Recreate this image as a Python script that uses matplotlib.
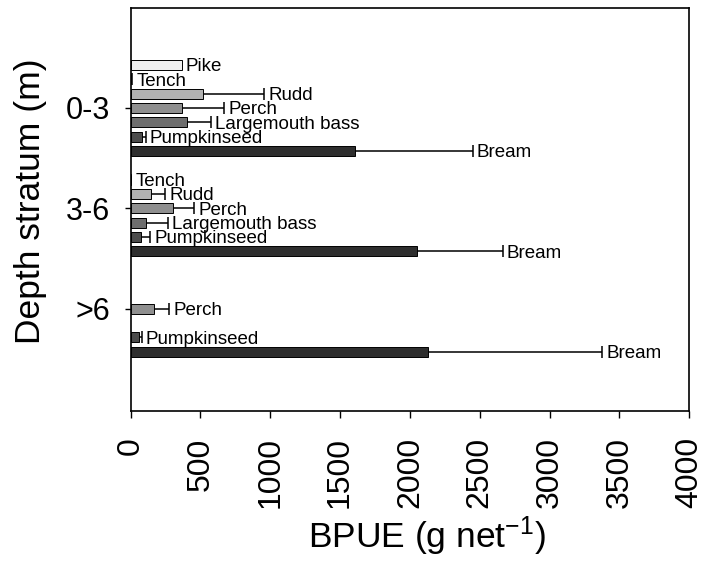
import numpy as np
import matplotlib
matplotlib.use("Agg")
import matplotlib.pyplot as plt

plt.rcParams['font.family'] = ['Liberation Sans', 'DejaVu Sans']
plt.rcParams['mathtext.fontset'] = 'custom'
plt.rcParams['mathtext.rm'] = 'Liberation Sans'
plt.rcParams['mathtext.default'] = 'regular'

strata = ["0-3", "3-6", ">6"]
species = ["Pike", "Tench", "Rudd", "Perch", "Largemouth bass", "Pumpkinseed", "Bream"]
colors = ["#f0f0f0", "#d4d4d4", "#b2b2b2", "#8f8f8f", "#6e6e6e", "#4c4c4c", "#2e2e2e"]

# mean BPUE per stratum (nan = not caught)
pike = [366, np.nan, np.nan]
tench = [4, 1, np.nan]
rudd = [521, 146, np.nan]
perch = [370, 301, 168]
lmbass = [402, 108, np.nan]
pumpkinseed = [82, 74, 60]
bream = [1607, 2054, 2128]

# standard errors
pike_se = [np.nan, np.nan, np.nan]
tench_se = [8, 3, np.nan]
rudd_se = [437, 100, np.nan]
perch_se = [299, 153, 107]
lmbass_se = [174, 162, np.nan]
pumpkinseed_se = [25, 65, 18]
bream_se = [841, 609, 1247]

values = [pike, tench, rudd, perch, lmbass, pumpkinseed, bream]
errors = [pike_se, tench_se, rudd_se, perch_se, lmbass_se, pumpkinseed_se, bream_se]

fig = plt.figure(figsize=(7.06, 5.65), dpi=100)
ax = fig.add_axes([0.185, 0.2726, 0.7913, 0.7141])

pos = np.arange(1, len(strata) + 1)
slot = 1.0 / 7
for i, (name, vals, errs, c) in enumerate(zip(species, values, errors, colors)):
    vals = np.array(vals, dtype=float)
    errs = np.array(errs, dtype=float)
    y = pos + (i - 3) * slot
    ok = ~np.isnan(vals)
    ax.barh(y[ok], vals[ok], height=0.1, color=c, edgecolor="black",
            linewidth=0.7, zorder=2)
    # one-sided error bars: line from bar end plus a cap at the end only
    eok = ok & ~np.isnan(errs)
    if eok.any():
        ends = vals[eok] + errs[eok]
        ax.hlines(y[eok], vals[eok], ends, color="black", linewidth=1.1, zorder=1)
        ax.plot(ends, y[eok], linestyle="", marker="|", markersize=8,
                markeredgewidth=1.1, color="black", zorder=1)
    # species label at the end of the error bar
    for v, e, yy in zip(vals, errs, y):
        if np.isnan(v):
            continue
        xe = v + (0 if np.isnan(e) else e)
        ax.annotate(name, (xe, yy), xytext=(3, 0), textcoords="offset points",
                    ha="left", va="center_baseline", fontsize=13.5)

ax.set_xlim(0, 4000)
ax.set_ylim(4.02, 0)
ax.set_xticks(np.arange(0, 4001, 500))
ax.set_xticklabels([str(t) for t in range(0, 4001, 500)], rotation=90)
ax.set_yticks(pos)
ax.set_yticklabels(strata)
ax.tick_params(axis="x", direction="out", length=5, width=1, labelsize=23, pad=14)
ax.tick_params(axis="y", direction="out", length=4, width=1, labelsize=22, pad=11)
for s in ax.spines.values():
    s.set_linewidth(1.2)

ax.set_xlabel("BPUE (g net$^{-1}$)", fontsize=25.5, va="center")
ax.xaxis.set_label_coords(0.53, -0.31)
ax.set_ylabel("Depth stratum (m)", fontsize=25.5, va="center")
ax.yaxis.set_label_coords(-0.18, 0.52)

fig.savefig("out.png", dpi=100)
